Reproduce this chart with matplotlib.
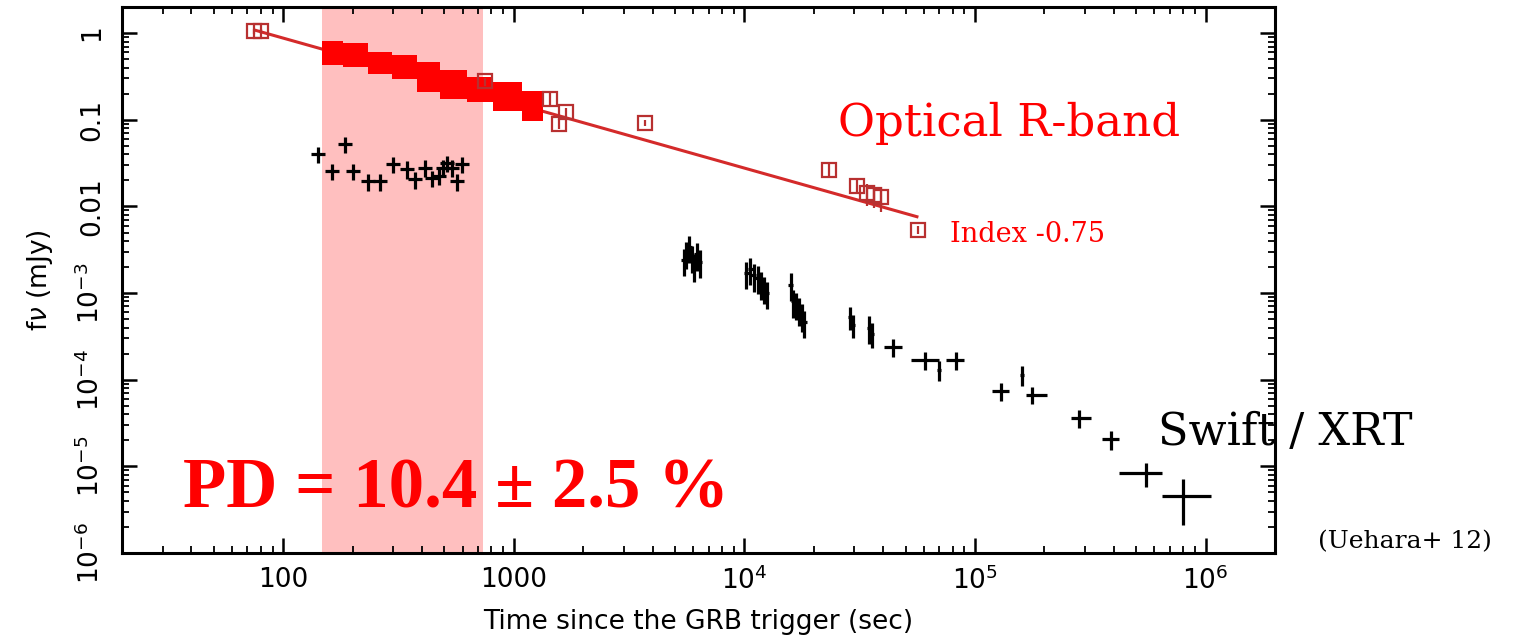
import matplotlib
matplotlib.use('Agg')
import matplotlib.pyplot as plt
import matplotlib.patches as ptchs

# optical R-band, sparse photometry (open squares)
opt_t = [75, 80, 749, 1432, 1567, 1679, 3724, 23300, 30800, 34000, 36500, 39200, 56600]
opt_f = [1.05, 1.05, 0.277, 0.175, 0.0898, 0.124, 0.0923, 0.0262, 0.0171, 0.0142, 0.0135, 0.0127, 0.0054]
opt_ferr = [0.08, 0.08, 0.03, 0.03, 0.012, 0.012, 0.008, 0.005, 0.003, 0.004, 0.004, 0.004, 0.0006]

# optical R-band, dense early monitoring (filled error boxes)
opt_bin_edges = [147, 182, 234, 296, 379, 478, 624, 813, 1080, 1339]
opt_bin_lo = [0.425, 0.406, 0.340, 0.297, 0.208, 0.174, 0.159, 0.127, 0.0974]
opt_bin_hi = [0.814, 0.771, 0.606, 0.555, 0.464, 0.371, 0.310, 0.272, 0.217]

# power-law fit to the optical light curve
fit_t = [76, 56000]
fit_norm = 27.7
fit_index = -0.75

# polarimetry window
pol_start, pol_end = 148, 735

# Swift/XRT light curve
xrt_t = [142, 163, 185, 201, 233, 263, 299, 344, 373, 412, 442, 474, 493, 513, 539, 567, 596,
         5450, 5600, 5750, 5900, 6050, 6200, 6400,
         10200, 10600, 11000, 11400, 11800, 12200, 12500,
         15900, 16300, 16800, 17200, 17700, 18200,
         28800, 29600, 34800, 35800,
         44000, 61000, 70000, 83000, 130000, 160000, 177000, 282000, 388000, 550000, 800000]
xrt_tm = [10, 11, 13, 14, 16, 18, 21, 24, 26, 29, 31, 33, 34, 36, 38, 40, 42,
          150, 150, 150, 150, 150, 150, 150,
          280, 280, 280, 280, 280, 280, 280,
          400, 400, 400, 400, 400, 400,
          600, 600, 700, 700,
          3600, 8200, 1500, 8000, 11000, 3000, 10000, 22000, 33000, 130000, 154000]
xrt_tp = [10, 11, 13, 14, 16, 18, 21, 24, 26, 29, 31, 33, 34, 36, 38, 40, 42,
          150, 150, 150, 150, 150, 150, 150,
          280, 280, 280, 280, 280, 280, 280,
          400, 400, 400, 400, 400, 400,
          600, 600, 700, 700,
          4300, 8800, 1500, 6500, 10000, 3000, 28000, 38000, 32000, 96000, 260000]
xrt_f = [0.040, 0.0255, 0.0526, 0.0255, 0.0195, 0.0195, 0.0308, 0.027, 0.0206, 0.028, 0.0213,
         0.0223, 0.028, 0.0316, 0.028, 0.0195, 0.0308,
         2.4e-3, 2.9e-3, 3.4e-3, 2.6e-3, 2.1e-3, 2.8e-3, 2.3e-3,
         1.7e-3, 1.9e-3, 1.6e-3, 1.5e-3, 1.3e-3, 1.15e-3, 1.0e-3,
         1.25e-3, 8.0e-4, 7.5e-4, 6.5e-4, 5.5e-4, 4.6e-4,
         5.3e-4, 4.3e-4, 4.0e-4, 3.4e-4,
         2.4e-4, 1.7e-4, 1.3e-4, 1.7e-4, 7.4e-5, 1.14e-4, 6.7e-5, 3.6e-5, 2.06e-5, 8.3e-6, 4.6e-6]
xrt_ferr = [0.008, 0.0055, 0.011, 0.0055, 0.0043, 0.0043, 0.0065, 0.006, 0.0045, 0.006, 0.0046,
            0.0048, 0.006, 0.0068, 0.006, 0.0043, 0.0066,
            8.4e-4, 1.0e-3, 1.2e-3, 9.1e-4, 7.4e-4, 9.8e-4, 8.1e-4,
            6.0e-4, 6.7e-4, 5.6e-4, 5.3e-4, 4.6e-4, 4.0e-4, 3.5e-4,
            4.4e-4, 2.8e-4, 2.6e-4, 2.3e-4, 1.9e-4, 1.6e-4,
            1.6e-4, 1.3e-4, 1.4e-4, 1.1e-4,
            5.5e-5, 4.0e-5, 3.3e-5, 4.0e-5, 1.7e-5, 3.0e-5, 1.5e-5, 8.5e-6, 5.0e-6, 2.5e-6, 2.5e-6]

x_ticks = [100, 1000, 1e4, 1e5, 1e6]
x_ticklabels = ['100', '1000', r'$10^4$', r'$10^5$', r'$10^6$']
y_ticks = [1e-6, 1e-5, 1e-4, 1e-3, 0.01, 0.1, 1]
y_ticklabels = [r'$10^{-6}$', r'$10^{-5}$', r'$10^{-4}$', r'$10^{-3}$', '0.01', '0.1', '1']

plt.rcParams['font.family'] = 'DejaVu Sans'
plt.rcParams['mathtext.fontset'] = 'dejavusans'

fig = plt.figure(figsize=(15.33, 6.4), dpi=100)
ax = fig.add_axes([0.0796, 0.1359, 0.7521, 0.8531])
ax.set_xscale('log')
ax.set_yscale('log')
ax.set_xlim(20, 2e6)
ax.set_ylim(1e-6, 2)

ax.axvspan(pol_start, pol_end, color='#ffbfbf', lw=0, zorder=0)

fit_f = [fit_norm * t ** fit_index for t in fit_t]
ax.plot(fit_t, fit_f, color='#d42a2a', lw=2.2, zorder=2)

for i in range(len(opt_bin_lo)):
    box = ptchs.Rectangle((opt_bin_edges[i], opt_bin_lo[i]),
                          opt_bin_edges[i + 1] - opt_bin_edges[i],
                          opt_bin_hi[i] - opt_bin_lo[i],
                          facecolor='#ff0000', edgecolor='none', lw=0, zorder=3)
    ax.add_patch(box)

ax.errorbar(opt_t, opt_f, yerr=opt_ferr, fmt='s', ms=9.5, mfc='none', mec='#b83030',
            mew=1.6, ecolor='#b83030', elinewidth=1.6, capsize=0, zorder=4)

ax.errorbar(xrt_t, xrt_f, xerr=[xrt_tm, xrt_tp], yerr=xrt_ferr, fmt='none',
            ecolor='black', elinewidth=2.3, capsize=0, zorder=5)

ax.set_xticks(x_ticks)
ax.set_xticklabels(x_ticklabels)
ax.set_yticks(y_ticks)
ax.set_yticklabels(y_ticklabels, rotation=90, va='center')
ax.tick_params(which='both', direction='in', top=True, right=True, labelsize=19)
ax.tick_params(which='major', length=10.5, width=1.8)
ax.tick_params(which='minor', length=5, width=1.3)
ax.tick_params(axis='x', which='major', pad=10)
ax.tick_params(axis='y', which='major', pad=12)
for sp in ax.spines.values():
    sp.set_linewidth(2.2)

ax.set_xlabel('Time since the GRB trigger (sec)', fontsize=19, labelpad=10)
ax.set_ylabel(r'f$\nu$ (mJy)', fontsize=19, labelpad=16)

ax.text(0.621, 0.7637, 'Optical R-band', transform=ax.transAxes, color='red',
        fontsize=32.5, family='DejaVu Serif', va='baseline')
ax.text(0.718, 0.5696, 'Index -0.75', transform=ax.transAxes, color='red',
        fontsize=19.5, family='DejaVu Serif', va='baseline')
ax.text(0.0529, 0.0842, 'PD = 10.4 \u00b1 2.5 %', transform=ax.transAxes, color='red',
        fontsize=51, family='Liberation Serif', weight='bold', va='baseline')
ax.text(0.8985, 0.1978, 'Swift / XRT', transform=ax.transAxes, color='black',
        fontsize=32, family='DejaVu Serif', va='baseline')
ax.text(1.0373, 0.0092, '(Uehara+ 12)', transform=ax.transAxes, color='black',
        fontsize=18, family='DejaVu Serif', va='baseline')

plt.savefig('out.png', dpi=100)
